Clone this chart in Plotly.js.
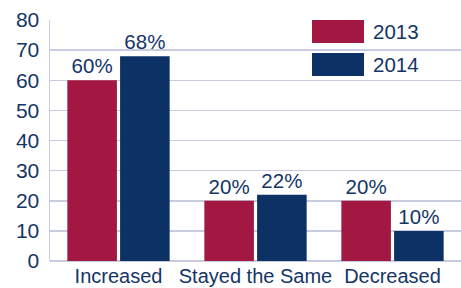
<!DOCTYPE html>
<html><head><meta charset="utf-8">
<script src="https://cdn.plot.ly/plotly-3.0.1.min.js"></script>
<style>html,body{margin:0;padding:0;background:#fff;}#chart{width:461px;height:288px;}</style>
</head><body><div id="chart"></div>
<script>
const categories = ["Increased", "Stayed the Same", "Decreased"];
const seriesNames = ["2013", "2014"];
const values2013 = [60, 20, 20];
const values2014 = [68, 22, 10];
const yTicks = [0, 10, 20, 30, 40, 50, 60, 70, 80];

const colors = ["#a31842", "#0c3265"];
const textColor = "#143567";
const font = {family: "Liberation Sans, Arial, sans-serif", size: 20.5, color: textColor};

const series = [values2013, values2014];
const traces = series.map((vals, i) => ({
  type: "bar",
  name: seriesNames[i],
  x: categories,
  y: vals,
  marker: {color: colors[i]},
  text: vals.map(v => v + "%"),
  textposition: "outside",
  textfont: font,
  cliponaxis: false,
  hoverinfo: "none"
}));

const legendBoxes = [[0.9046, 1.0], [0.7676, 0.863]];
const shapes = legendBoxes.map((b, i) => ({
  type: "rect", xref: "paper", yref: "paper",
  x0: 0.6375, x1: 0.764, y0: b[0], y1: b[1],
  fillcolor: colors[i], line: {width: 0}
}));
const annotations = seriesNames.map((n, i) => ({
  xref: "paper", yref: "paper", x: 0.781, y: (legendBoxes[i][0] + legendBoxes[i][1]) / 2,
  xanchor: "left", yanchor: "middle", text: n, showarrow: false, font: font
}));

const layout = {
  width: 461, height: 288,
  margin: {l: 50, r: 0, t: 20, b: 27},
  paper_bgcolor: "#fff", plot_bgcolor: "#fff",
  barmode: "group", bargap: 0.23, bargroupgap: 0.06,
  showlegend: false,
  font: font,
  xaxis: {
    type: "category", range: [-0.5, 2.5],
    showgrid: false, showline: false, zeroline: false,
    tickfont: {family: font.family, size: 20, color: textColor},
    ticks: "", ticklabelstandoff: 1, automargin: false
  },
  yaxis: {
    range: [0, 80], tickvals: yTicks, ticktext: yTicks.map(String),
    showgrid: true, gridcolor: "#c9cce0", gridwidth: 1.5,
    zeroline: true, zerolinecolor: "#c9cce0", zerolinewidth: 1.5,
    showline: true, linecolor: "#c9cce0", linewidth: 1.5,
    tickfont: {family: font.family, size: 21, color: textColor},
    ticks: "outside", ticklen: 5, tickcolor: "rgba(0,0,0,0)", automargin: false
  },
  shapes: shapes,
  annotations: annotations
};

Plotly.newPlot("chart", traces, layout, {displayModeBar: false, staticPlot: true});
</script></body></html>
